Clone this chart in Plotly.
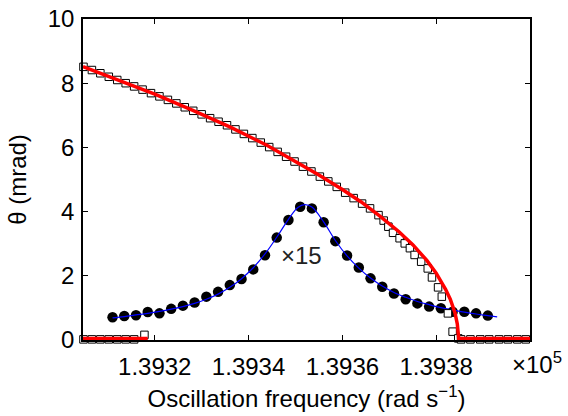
import plotly.graph_objects as go

# ---------------- data ----------------
# upper branch squares (frequency in rad/s, theta in mrad)
sq_up_x = [139304.8, 139306.6, 139308.4, 139310.2, 139312.0, 139313.8, 139315.6, 139317.4,
           139319.2, 139321.0, 139322.8, 139324.6, 139326.4, 139328.2, 139330.0, 139331.8,
           139333.6, 139335.4, 139337.2, 139339.0, 139340.8, 139342.6, 139344.4, 139346.2,
           139348.0, 139349.8, 139351.6, 139353.4, 139355.2, 139357.0, 139358.8, 139360.6,
           139362.4, 139364.2,
           139365.9, 139367.7, 139368.8, 139369.8, 139370.8, 139372.2, 139373.3, 139374.4,
           139375.4, 139376.8, 139378.2, 139379.1, 139380.4, 139381.2, 139382.5, 139383.5,
           139384.7, 139385.3, 139387.3, 139389.4, 139391.3, 139393.4, 139395.3, 139397.3,
           139399.1]
sq_up_y = [8.51, 8.41, 8.31, 8.20, 8.10, 8.00, 7.90, 7.80,
           7.69, 7.59, 7.48, 7.37, 7.25, 7.14, 7.03, 6.91,
           6.80, 6.69, 6.56, 6.42, 6.29, 6.15, 6.01, 5.86,
           5.71, 5.56, 5.40, 5.25, 5.09, 4.94, 4.77, 4.59,
           4.42, 4.25,
           4.10, 3.89, 3.72, 3.53, 3.34, 3.17, 3.01, 2.86,
           2.65, 2.44, 2.23, 1.95, 1.64, 1.35, 0.83, 0.26,
           0.05, 0.02, 0.02, 0.02, 0.02, 0.02, 0.02, 0.02,
           0.02]
# lower branch squares (left)
sq_low_x = [139304.8, 139306.6, 139308.4, 139310.2, 139312.0, 139313.8, 139315.6, 139317.8]
sq_low_y = [0.02, 0.02, 0.02, 0.02, 0.02, 0.02, 0.02, 0.16]

# model curve (red)
red_up_x = [139304.7, 139312.0, 139320.0, 139328.0, 139336.0, 139344.0, 139350.0, 139355.0,
            139360.0, 139364.0, 139368.0, 139372.0, 139375.0, 139378.0, 139380.0, 139382.0,
            139383.0, 139384.0, 139384.5, 139384.8, 139390.0, 139400.0]
red_up_y = [8.52, 8.12, 7.66, 7.16, 6.64, 6.06, 5.57, 5.14,
            4.69, 4.30, 3.86, 3.38, 2.97, 2.48, 2.08, 1.58,
            1.27, 0.85, 0.50, 0.05, 0.05, 0.05]
red_low_x = [139304.7, 139318.5]
red_low_y = [0.05, 0.05]

# phase-angle data (x15) dots
dot_x = [139311.0 + 2.5 * k for k in range(33)]
dot_y = [0.71, 0.75, 0.77, 0.87, 0.83, 0.97, 1.07, 1.17, 1.35, 1.50, 1.71, 1.90, 2.20,
         2.64, 3.19, 3.74, 4.15, 4.10, 3.67, 3.08, 2.63, 2.26, 1.92, 1.66, 1.45, 1.27,
         1.14, 1.04, 0.99, 0.88, 0.88, 0.83, 0.76]

# fit through dots (blue)
fit_x = [139311, 139313.5, 139316, 139318.5, 139321, 139323.5, 139326, 139328.5, 139331,
         139333.5, 139336, 139338.5, 139341, 139343.5, 139346, 139348.5, 139350.5, 139352,
         139353.5, 139356, 139358.5, 139361, 139363.5, 139366, 139368.5, 139371, 139373.5,
         139376, 139378.5, 139381, 139383.5, 139386, 139388.5, 139391, 139393]
fit_y = [0.69, 0.73, 0.78, 0.83, 0.89, 0.96, 1.04, 1.14, 1.27, 1.43, 1.64, 1.91, 2.25,
         2.68, 3.20, 3.76, 4.13, 4.22, 4.14, 3.68, 3.10, 2.62, 2.24, 1.93, 1.68, 1.48,
         1.33, 1.20, 1.10, 1.01, 0.94, 0.87, 0.81, 0.76, 0.72]

x_tickvals = [139320, 139340, 139360, 139380]
x_ticktext = ["1.3932", "1.3934", "1.3936", "1.3938"]
y_tickvals = [0, 2, 4, 6, 8, 10]
y_ticktext = ["0", "2", "4", "6", "8", "10"]

FONT = "Liberation Sans, Arial, sans-serif"
FS = 24

fig = go.Figure()
fig.add_trace(go.Scatter(x=dot_x, y=dot_y, mode="markers",
                         marker=dict(symbol="circle", size=10.5, color="black"),
                         cliponaxis=False, showlegend=False))
fig.add_trace(go.Scatter(x=fit_x, y=fit_y, mode="lines",
                         line=dict(color="#0000ff", width=1.2, shape="spline"),
                         showlegend=False))
for xs, ys in ((sq_up_x, sq_up_y), (sq_low_x, sq_low_y)):
    fig.add_trace(go.Scatter(x=xs, y=ys, mode="markers",
                             marker=dict(symbol="square", size=7.5, color="white",
                                         line=dict(color="black", width=1)),
                             cliponaxis=False, showlegend=False))
for xs, ys in ((red_up_x, red_up_y), (red_low_x, red_low_y)):
    fig.add_trace(go.Scatter(x=xs, y=ys, mode="lines",
                             line=dict(color="#ff0000", width=3.5),
                             cliponaxis=False, showlegend=False))

fig.add_annotation(x=139346.4, y=2.62, xref="x", yref="y", text="×15", showarrow=False,
                   xanchor="left", yanchor="middle", font=dict(family=FONT, size=FS, color="#222"))
fig.add_annotation(x=0.956, y=-0.072, xref="paper", yref="paper", text="×10<sup>5</sup>",
                   showarrow=False, xanchor="left", yanchor="middle",
                   font=dict(family=FONT, size=FS, color="black"))

axis_common = dict(showline=True, linecolor="black", linewidth=1.5, mirror="ticks",
                   ticks="inside", ticklen=5, tickwidth=1.2, tickcolor="black",
                   showgrid=False, zeroline=False,
                   tickfont=dict(family=FONT, size=FS, color="black"))
fig.update_xaxes(range=[139304.7, 139400.0], tickvals=x_tickvals, ticktext=x_ticktext,
                 ticklabelstandoff=4,
                 title=dict(text="Oscillation frequency (rad s<sup>−1</sup>)",
                            font=dict(family=FONT, size=FS, color="black"), standoff=12),
                 **axis_common)
fig.update_yaxes(range=[0, 10], tickvals=y_tickvals, ticktext=y_ticktext,
                 ticklabelstandoff=2,
                 title=dict(text="θ (mrad)", font=dict(family=FONT, size=FS, color="black"),
                            standoff=14),
                 **axis_common)
fig.update_layout(width=568, height=416, margin=dict(l=83, r=38, t=19, b=76, autoexpand=False),
                  paper_bgcolor="white", plot_bgcolor="white",
                  font=dict(family=FONT, size=FS, color="black"))
fig.write_html("out.html", config={"displayModeBar": False},
               post_script="document.body.style.margin='0px';"
                           "document.documentElement.style.overflow='hidden';")
